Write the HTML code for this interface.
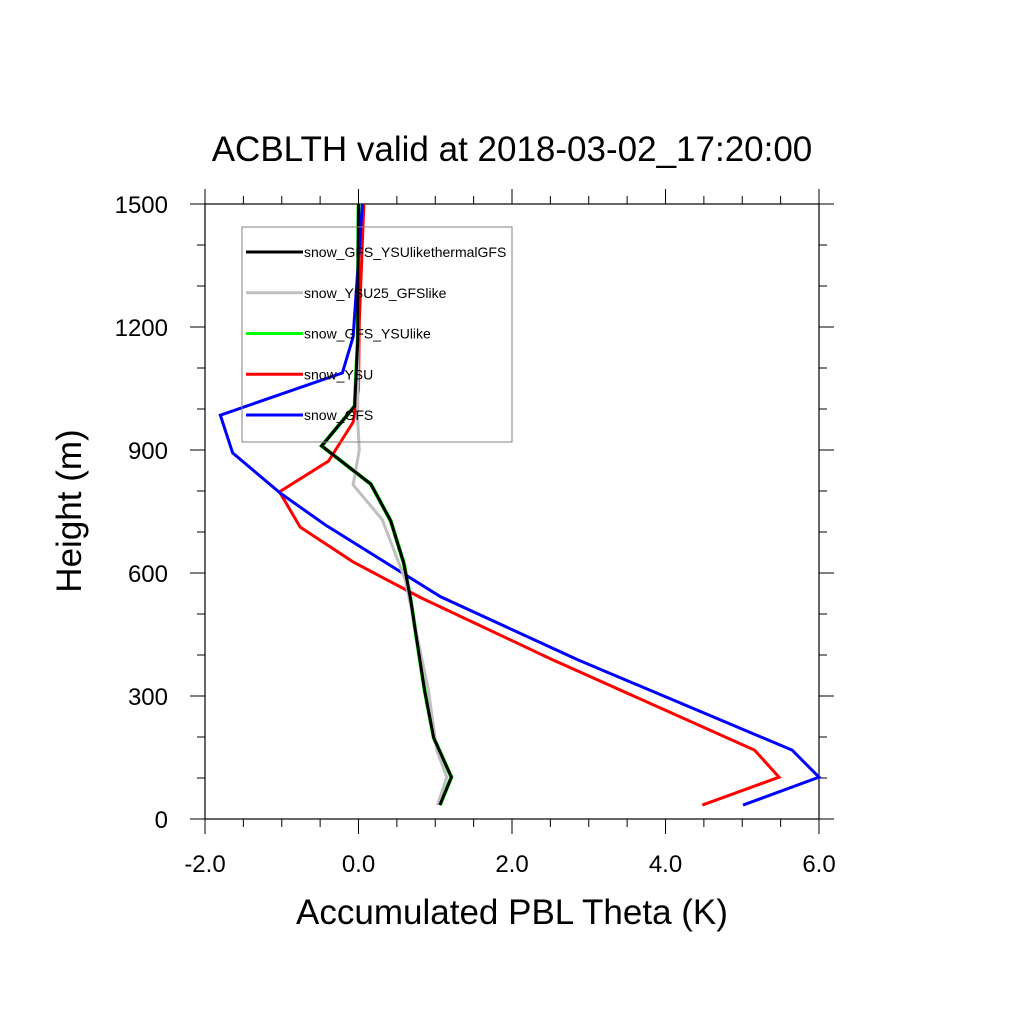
<!DOCTYPE html>
<html><head><meta charset="utf-8"><style>body{margin:0;background:#fff}svg{display:block}text{font-family:"Liberation Sans",sans-serif}</style></head>
<body>
<svg id="chart" width="1024" height="1024" xmlns="http://www.w3.org/2000/svg">
<text x="512" y="161" font-size="35" text-anchor="middle">ACBLTH valid at 2018-03-02_17:20:00</text>
<text transform="translate(81,511) rotate(-90)" font-size="35" text-anchor="middle">Height (m)</text>
<text x="512" y="924" font-size="35" text-anchor="middle">Accumulated PBL Theta (K)</text>
<g id="axes"></g>
<g id="series"></g>
<g id="legend"></g>
</svg>
<script>
const xTicks=[-2,0,2,4,6];
const xTickLabels=["-2.0","0.0","2.0","4.0","6.0"];
const yTicks=[0,300,600,900,1200,1500];
const yTickLabels=["0","300","600","900","1200","1500"];
const seriesNames=["snow_GFS_YSUlikethermalGFS","snow_YSU25_GFSlike","snow_GFS_YSUlike","snow_YSU","snow_GFS"];
const blackX=[1.06,1.21,0.98,0.86,0.68,0.59,0.42,0.16,-0.48,-0.05,-0.01,0];
const blackH=[34,102,198,315,534,624,727,817,910,1007,1168,1500];
const grayX=[1.03,1.15,1.02,0.91,0.61,0.31,-0.07,0.01,-0.01,0];
const grayH=[34,102,168,315,583,730,815,900,973,1500];
const greenX=blackX.slice();
const greenH=blackH.slice();
const redX=[4.48,5.48,5.16,2.51,0.81,-0.07,-0.76,-1.03,-0.39,-0.07,0,0.01,0.07];
const redH=[34,102,168,390,540,627,712,798,873,968,1046,1210,1500];
const blueX=[5.01,6.0,5.65,2.86,1.07,-0.43,-1.02,-1.64,-1.80,-0.21,-0.07,0.05];
const blueH=[34,102,168,388,542,717,795,893,985,1088,1176,1500];

const L=205,R=819,T=204,B=819,xmin=-2,xmax=6,ymin=0,ymax=1500;
const sx=v=>L+(v-xmin)/(xmax-xmin)*(R-L);
const sy=v=>B-(v-ymin)/(ymax-ymin)*(B-T);
const NS="http://www.w3.org/2000/svg";
function mk(tag,attrs,parent){const e=document.createElementNS(NS,tag);for(const k in attrs)e.setAttribute(k,attrs[k]);parent.appendChild(e);return e;}
const axes=document.getElementById('axes');
const frame=mk('rect',{x:L,y:T,width:R-L,height:B-T,fill:'none',stroke:'#000','stroke-width':1.2},axes);


for(let v=xmin;v<=xmax+1e-9;v+=0.5){
  const major=Math.abs(v-Math.round(v/2)*2)<1e-9;const len=major?15:8;const x=sx(v);
  const t1=mk('line',{x1:x,y1:B,x2:x,y2:B+len,stroke:'#000','stroke-width':1},axes);
  
  
  const t2=mk('line',{x1:x,y1:T,x2:x,y2:T-len,stroke:'#000','stroke-width':1},axes);
  
  
}
for(let v=ymin;v<=ymax;v+=100){
  const major=v%300===0;const len=major?15:8;const y=sy(v);
  const t1=mk('line',{x1:L,y1:y,x2:L-len,y2:y,stroke:'#000','stroke-width':1},axes);
  
  
  const t2=mk('line',{x1:R,y1:y,x2:R+len,y2:y,stroke:'#000','stroke-width':1},axes);
  
  
}
xTicks.forEach((v,i)=>{const t=mk('text',{x:sx(v),y:B+53,'font-size':24,'text-anchor':'middle'},axes);t.textContent=xTickLabels[i];
  
  });
yTicks.forEach((v,i)=>{const t=mk('text',{x:L-37,y:sy(v)+9,'font-size':24,'text-anchor':'end'},axes);t.textContent=yTickLabels[i];
  
  });
const ser=document.getElementById('series');
const defs=[[greenX,greenH,'#00ff00','green'],[redX,redH,'#ff0000','red'],[blueX,blueH,'#0000ff','blue'],[grayX,grayH,'#bfbfbf','gray'],[blackX,blackH,'#000000','black']];
defs.forEach(d=>{const pts=d[0].map((v,i)=>sx(v)+','+sy(d[1][i])).join(' ');
  const p=mk('polyline',{points:pts,fill:'none',stroke:d[2],'stroke-width':d[3]==='green'?4:3,'stroke-linejoin':'miter'},ser);
  
  });
const lg=document.getElementById('legend');
const box=mk('rect',{x:242,y:227,width:270,height:215,fill:'none',stroke:'#808080','stroke-width':1},lg);


const lc=['#000','#bfbfbf','#00ff00','#ff0000','#0000ff'];
seriesNames.forEach((n,i)=>{const y=252+i*40.75;
  const ln=mk('line',{x1:246,y1:y,x2:303,y2:y,stroke:lc[i],'stroke-width':3},lg);
  
  
  const t=mk('text',{x:304,y:y+5,'font-size':14},lg);t.textContent=n;
  
  });
</script>
</body></html>
